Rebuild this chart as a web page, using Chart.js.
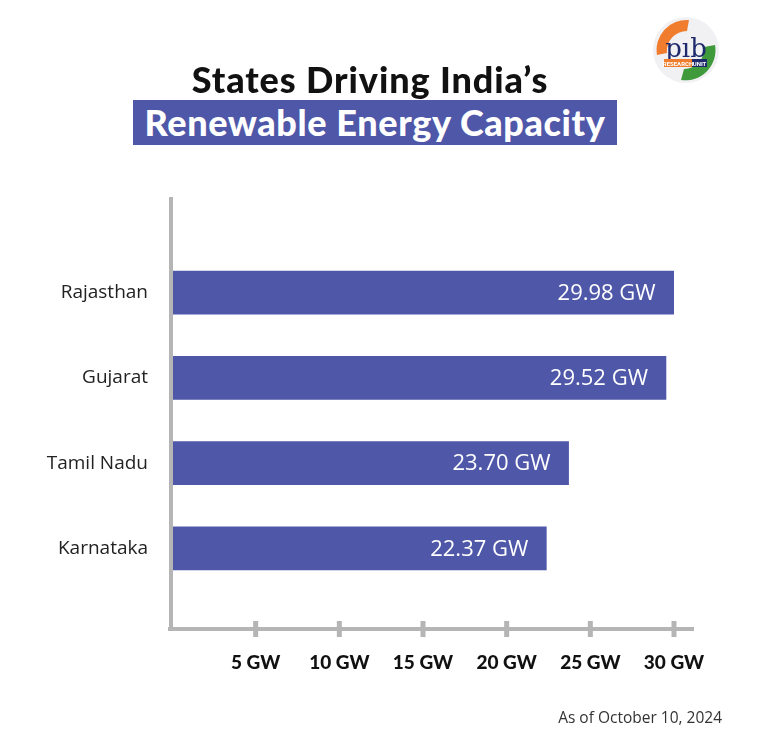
<!DOCTYPE html>
<html>
<head>
<meta charset="utf-8">
<script src="https://cdn.jsdelivr.net/npm/chart.js@4"></script>
<style>
  html, body { margin: 0; padding: 0; background: #fff; }
  #wrap { position: relative; width: 767px; height: 737px; overflow: hidden; }
  #chart { position: absolute; left: 0; top: 0; }
  .title1 { position: absolute; left: 0; width: 740px; top: 57px; text-align: center;
            font-family: Lato, sans-serif; font-weight: 900; font-size: 36px; color: #111; letter-spacing: 0.9px; }
  .title2 { position: absolute; left: 133px; top: 100px; width: 484px; height: 45px; background: #4f57a9;
            color: #fff; font-family: Lato, sans-serif; font-weight: 900; font-size: 36px; line-height: 45px;
            text-align: center; letter-spacing: 0.6px; }
  .note { position: absolute; right: 45px; top: 706px; font-family: "Open Sans", sans-serif; font-size: 15.5px; color: #333; }
  #logo { position: absolute; left: 651px; top: 15px; }
</style>
</head>
<body>
<div id="wrap">
  <canvas id="chart" width="767" height="737"></canvas>
  <div class="title1">States Driving India’s</div>
  <div class="title2">Renewable Energy Capacity</div>
  <div class="note">As of October 10, 2024</div>
  <svg id="logo" width="70" height="70" viewBox="0 0 70 70">
    <circle cx="35" cy="35" r="33" fill="#f1f1f4"/>
    <path d="M6 40 A30 30 0 0 1 38 5 L36 16 A20 20 0 0 0 16 38 Z" fill="#ef7d2d"/>
    <path d="M64 30 A30 30 0 0 1 30 65 L33 54 A20 20 0 0 0 53 32 Z" fill="#3f9a3c"/>
    <text x="35" y="42" text-anchor="middle" font-family="DejaVu Serif, serif" font-size="26" fill="#1e2a6b">pıb</text>
    <rect x="13" y="44" width="28" height="8" fill="#ef7d2d"/>
    <rect x="41" y="44" width="15" height="8" fill="#1e2a6b"/>
    <text x="27" y="50.5" text-anchor="middle" font-family="Roboto, sans-serif" font-weight="bold" font-size="6" fill="#fff">RESEARCH</text>
    <text x="48.5" y="50.5" text-anchor="middle" font-family="Roboto, sans-serif" font-weight="bold" font-size="6" fill="#fff">UNIT</text>
  </svg>
</div>
<script>
// data
const states = ['Rajasthan', 'Gujarat', 'Tamil Nadu', 'Karnataka'];
const capacityGW = [29.98, 29.52, 23.70, 22.37];
const valueLabels = ['29.98 GW', '29.52 GW', '23.70 GW', '22.37 GW'];
const tickValues = [5, 10, 15, 20, 25, 30];

const barColor = '#4f57a9';
const axisGray = '#b5b5b5';

// draws the thick gray axis lines, the tick marks and the value labels on the bars
const axisAndLabels = {
  id: 'axisAndLabels',
  afterDatasetsDraw(chart) {
    const { ctx, chartArea, scales } = chart;
    const axisY = 629;
    ctx.save();
    ctx.fillStyle = axisGray;
    // vertical axis
    ctx.fillRect(chartArea.left - 3, 197, 4, axisY - 197 + 2);
    // horizontal axis
    ctx.fillRect(chartArea.left - 4, axisY - 2, 694 - chartArea.left + 4, 4);
    // tick marks
    tickValues.forEach(v => {
      const x = scales.x.getPixelForValue(v);
      ctx.fillRect(x - 2.5, axisY - 8, 5, 16);
    });
    // value labels inside the bars
    const meta = chart.getDatasetMeta(0);
    ctx.fillStyle = '#fff';
    ctx.font = '22px "Open Sans", sans-serif';
    ctx.textAlign = 'right';
    ctx.textBaseline = 'middle';
    meta.data.forEach((bar, i) => {
      ctx.fillText(valueLabels[i], bar.x - 18, bar.y + 1);
    });
    ctx.restore();
  }
};

new Chart(document.getElementById('chart'), {
  type: 'bar',
  data: {
    labels: states,
    datasets: [{
      data: capacityGW,
      backgroundColor: barColor,
      barThickness: 43,
      borderWidth: 0
    }]
  },
  options: {
    indexAxis: 'y',
    responsive: false,
    animation: false,
    layout: { padding: { top: 250, right: 93, bottom: 0, left: 0 } },
    plugins: { legend: { display: false }, tooltip: { enabled: false } },
    scales: {
      x: {
        min: 0,
        max: 30,
        ticks: {
          stepSize: 5,
          padding: 60,
          color: '#111',
          font: { family: 'Lato, sans-serif', weight: '900', size: 19 },
          callback: v => (v === 0 ? '' : v + ' GW')
        },
        grid: { display: false, drawTicks: false },
        border: { display: false },
        afterFit(scale) { scale.height = 146; }
      },
      y: {
        ticks: {
          padding: 24,
          color: '#222',
          font: { family: '"Open Sans", sans-serif', size: 19 }
        },
        grid: { display: false, drawTicks: false },
        border: { display: false },
        afterFit(scale) { scale.width = 172; }
      }
    }
  },
  plugins: [axisAndLabels]
});
</script>
</body>
</html>
